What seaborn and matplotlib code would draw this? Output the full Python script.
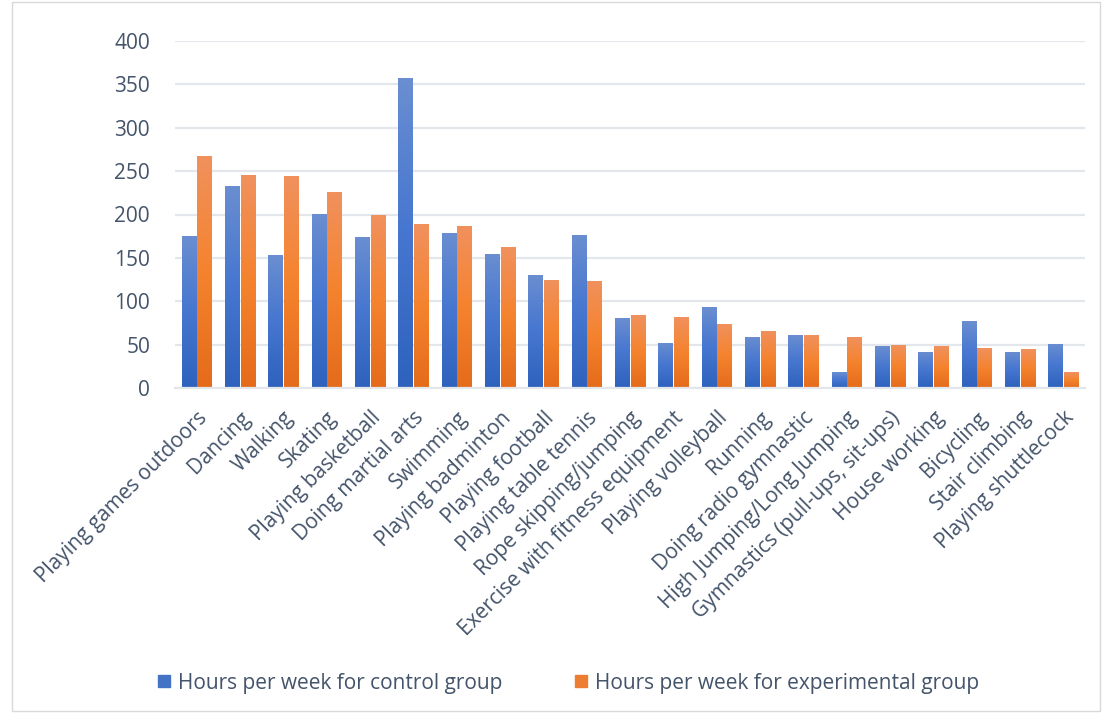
import numpy as np
import pandas as pd
import seaborn as sns
import matplotlib.pyplot as plt
from matplotlib.colors import LinearSegmentedColormap
from matplotlib.patches import Rectangle

activities = ['Playing games outdoors', 'Dancing', 'Walking', 'Skating', 'Playing basketball',
              'Doing martial arts', 'Swimming', 'Playing badminton', 'Playing football',
              'Playing table tennis', 'Rope skipping/jumping', 'Exercise with fitness equipment',
              'Playing volleyball', 'Running', 'Doing radio gymnastic', 'High Jumping/Long Jumping',
              'Gymnastics (pull-ups, sit-ups)', 'House working', 'Bicycling', 'Stair climbing',
              'Playing shuttlecock']
control = [175, 233, 153, 201, 174, 357, 179, 155, 130, 176, 81, 52, 93, 59, 61, 18, 48, 42, 77, 42, 51]
experimental = [268, 245, 244, 226, 200, 189, 187, 162, 125, 123, 84, 82, 74, 66, 61, 59, 50, 48, 46, 45, 18]
groups = ['Hours per week for control group', 'Hours per week for experimental group']

df = pd.DataFrame({
    'activity': activities * 2,
    'hours': control + experimental,
    'group': [groups[0]] * len(activities) + [groups[1]] * len(activities),
})

sns.set_style('white')
plt.rcParams['font.family'] = ['Open Sans', 'DejaVu Sans']
txt = '#44546A'

fig = plt.figure(figsize=(11.04, 7.13), dpi=100)
ax = fig.add_axes([175 / 1104, 1 - 388 / 713, 910 / 1104, 347 / 713])

pal = {groups[0]: '#4472C4', groups[1]: '#ED7D31'}
sns.barplot(data=df, x='activity', y='hours', hue='group', palette=pal, ax=ax,
            width=0.72, gap=0.08, legend=False)

# Excel-like vertical gradient on each bar
grads = {
    groups[0]: LinearSegmentedColormap.from_list('b', ['#2E62BC', '#4676D0', '#6A8ED0']),
    groups[1]: LinearSegmentedColormap.from_list('o', ['#E46B1A', '#F5832E', '#F0915E']),
}
grad = np.linspace(0, 1, 256).reshape(-1, 1)
n = len(activities)
for i, p in enumerate(ax.patches[:2 * n]):
    g = groups[0] if i < n else groups[1]
    x0, w, h = p.get_x(), p.get_width(), p.get_height()
    p.set_facecolor('none')
    p.set_edgecolor('none')
    im = ax.imshow(grad, cmap=grads[g], aspect='auto', origin='lower',
                   extent=[x0, x0 + w, 0, h], zorder=2)
    im.set_clip_path(p)

ax.set_xlim(-0.5, n - 0.5)
ax.set_ylim(0, 400)
ax.set_yticks(range(0, 401, 50))
ax.yaxis.grid(True, color='#E3E6EB', lw=1.6)
ax.set_axisbelow(True)
for s in ['top', 'right', 'left']:
    ax.spines[s].set_visible(False)
ax.spines['bottom'].set_color('#E3E6EB')
ax.spines['bottom'].set_linewidth(1.6)
ax.set_xlabel('')
ax.set_ylabel('')
ax.tick_params(axis='y', labelsize=15, colors=txt, length=0, pad=18)
ax.tick_params(axis='x', length=0, pad=14)
ax.set_xticks(range(n))
ax.set_xticklabels(activities, rotation=45, ha='right', rotation_mode='anchor',
                   fontsize=15, color=txt)

handles = [Rectangle((0, 0), 1, 1, color=pal[g]) for g in groups]
fig.legend(handles, groups, loc='center', bbox_to_anchor=(0.515, 1 - 683 / 713), ncol=2,
           frameon=False, fontsize=15, labelcolor=txt, handlelength=0.55, handleheight=0.55,
           handletextpad=0.4, columnspacing=3.5)

fig.patches.append(Rectangle((0.011, 0.003), 0.985, 0.994, transform=fig.transFigure,
                             fill=False, edgecolor='#D9D9D9', lw=1))

fig.savefig('out.png', dpi=100)
